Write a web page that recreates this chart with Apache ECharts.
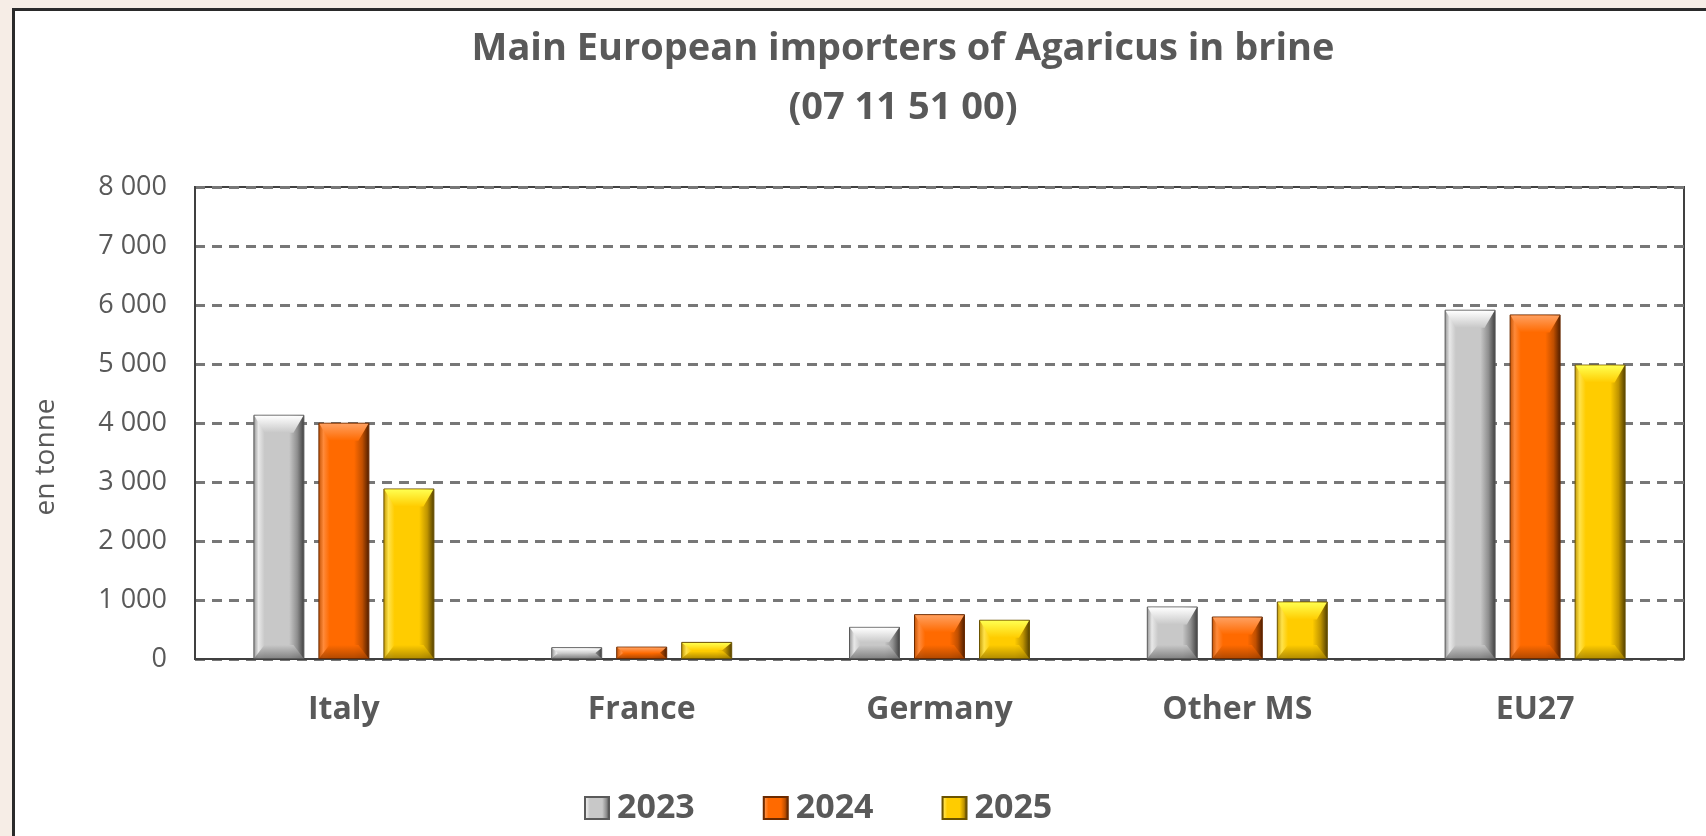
<!DOCTYPE html>
<html>
<head>
<meta charset="utf-8">
<script src="https://cdn.jsdelivr.net/npm/echarts@6/dist/echarts.min.js"></script>
<style>
  html, body { margin: 0; padding: 0; background: #f6ede6; }
  #frame { position: absolute; left: 12px; top: 8px; right: 0; bottom: 0;
           background: #ffffff; border-top: 3px solid #2a2a2a; border-left: 3px solid #2a2a2a; }
  #chart { position: absolute; left: 0; top: 0; width: 1706px; height: 836px; }
</style>
</head>
<body>
<div id="frame"></div>
<div id="chart"></div>
<script>
// Import volumes of Agaricus in brine (CN 07 11 51 00), tonnes
const categories = ['Italy', 'France', 'Germany', 'Other MS', 'EU27'];
const years = ['2023', '2024', '2025'];
const values2023 = [4140, 200, 545, 890, 5920];
const values2024 = [4005, 210, 760, 720, 5840];
const values2025 = [2890, 290, 665, 975, 4990];
const yTicks = [0, 1000, 2000, 3000, 4000, 5000, 6000, 7000, 8000];

const textGrey = '#595959';
const font = '"Open Sans", "DejaVu Sans", sans-serif';
const BAR_W = 51;
const BAR_GAP = 14;

// horizontal shading of a bar face: light left edge, flat face, dark right edge
function bevel(p) {
  return new echarts.graphic.LinearGradient(0, 0, 1, 0, [
    { offset: 0, color: p.shade },
    { offset: 0.1, color: p.light },
    { offset: 0.22, color: p.face },
    { offset: 0.7, color: p.face },
    { offset: 0.86, color: p.shade },
    { offset: 1, color: p.dark }
  ]);
}

const palettes = [
  { light: '#e8e8e8', face: '#c8c8c8', shade: '#8f8f8f', dark: '#3c3c3c', border: '#5a5a5a',
    capTop: '#ffffff', capBottom: '#c8c8c8', foot: '#7a7a7a' },
  { light: '#ff8a3a', face: '#ff6a00', shade: '#c04f00', dark: '#4a1c00', border: '#6b2a00',
    capTop: '#ffa060', capBottom: '#ff6a00', foot: '#a84400' },
  { light: '#ffe24a', face: '#ffcc00', shade: '#bf9400', dark: '#4d3b00', border: '#6b5300',
    capTop: '#ffff50', capBottom: '#ffcc00', foot: '#a88400' }
];
const seriesValues = [values2023, values2024, values2025];

// top and bottom bevel facets laid over each bar
function bevelFacets(i) {
  const p = palettes[i];
  const offset = (i - 1) * (BAR_W + BAR_GAP);
  return function (params, api) {
    const cat = api.value(0);
    const v = api.value(1);
    const base = api.coord([cat, 0]);
    const top = api.coord([cat, v]);
    const x0 = base[0] + offset - BAR_W / 2 + 1;
    const x1 = x0 + BAR_W - 2;
    const h = base[1] - top[1];
    const capH = Math.min(17, h * 0.45);
    const footH = Math.min(13, h * 0.4);
    const side = Math.min(10, capH * 1.2);
    const sideB = Math.min(10, footH * 1.2);
    const yt = top[1] + 1, yb = base[1] - 1;
    return {
      type: 'group',
      children: [
        {
          type: 'polygon',
          shape: { points: [[x0, yt], [x1, yt], [x1 - side, yt + capH], [x0 + side, yt + capH]] },
          style: {
            fill: new echarts.graphic.LinearGradient(0, 0, 0, 1, [
              { offset: 0, color: p.capTop }, { offset: 1, color: p.capBottom }
            ])
          }
        },
        {
          type: 'polygon',
          shape: { points: [[x0, yb], [x1, yb], [x1 - sideB, yb - footH], [x0 + sideB, yb - footH]] },
          style: {
            fill: new echarts.graphic.LinearGradient(0, 0, 0, 1, [
              { offset: 0, color: p.face }, { offset: 1, color: p.foot }
            ]),
            opacity: 0.85
          }
        }
      ]
    };
  };
}

const chart = echarts.init(document.getElementById('chart'), null, { renderer: 'canvas' });

const barSeries = years.map((y, i) => ({
  name: y,
  type: 'bar',
  data: seriesValues[i],
  barWidth: BAR_W,
  barGap: (BAR_GAP / BAR_W * 100) + '%',
  itemStyle: {
    color: bevel(palettes[i]),
    borderColor: palettes[i].border,
    borderWidth: 1
  }
}));

const facetSeries = years.map((y, i) => ({
  name: 'facets ' + y,
  type: 'custom',
  silent: true,
  z: 3,
  renderItem: bevelFacets(i),
  data: seriesValues[i].map((v, k) => [k, v])
}));

chart.setOption({
  backgroundColor: 'transparent',
  animation: false,
  title: {
    text: 'Main European importers of Agaricus in brine\n(07 11 51 00)',
    left: 903,
    top: 20,
    textAlign: 'center',
    padding: 0,
    textStyle: {
      fontFamily: font, fontWeight: 'bold', fontSize: 38,
      color: textGrey, lineHeight: 59
    }
  },
  legend: {
    data: years,
    left: 584,
    top: 791,
    padding: 0,
    itemWidth: 24,
    itemHeight: 22,
    itemGap: 68,
    icon: 'rect',
    textStyle: {
      fontFamily: font, fontWeight: 'bold', fontSize: 34, color: textGrey,
      lineHeight: 34, padding: [0, 0, 0, 3]
    }
  },
  grid: {
    left: 195, right: 22, top: 187, bottom: 177,
    show: true, borderColor: '#404040', borderWidth: 2,
    backgroundColor: 'transparent'
  },
  xAxis: {
    type: 'category',
    data: categories,
    axisLine: { show: true, lineStyle: { color: '#404040', width: 2 } },
    axisTick: { show: false },
    axisLabel: {
      fontFamily: font, fontWeight: 'bold', fontSize: 32, color: textGrey,
      lineHeight: 32, margin: 35
    }
  },
  yAxis: {
    type: 'value',
    min: yTicks[0],
    max: yTicks[yTicks.length - 1],
    interval: yTicks[1] - yTicks[0],
    name: 'en tonne',
    nameLocation: 'middle',
    nameRotate: 90,
    nameGap: 135,
    nameTextStyle: { fontFamily: font, fontSize: 28, color: textGrey, padding: [0, 68, 0, 0] },
    axisLine: { show: true, lineStyle: { color: '#404040', width: 2 } },
    axisTick: { show: false },
    axisLabel: {
      fontFamily: font, fontSize: 27, color: textGrey, margin: 28,
      formatter: v => String(v).replace(/\B(?=(\d{3})+(?!\d))/g, ' ')
    },
    splitLine: {
      show: true,
      lineStyle: { color: '#777777', width: 3, type: [10, 7] }
    }
  },
  series: barSeries.concat(facetSeries)
});
</script>
</body>
</html>
